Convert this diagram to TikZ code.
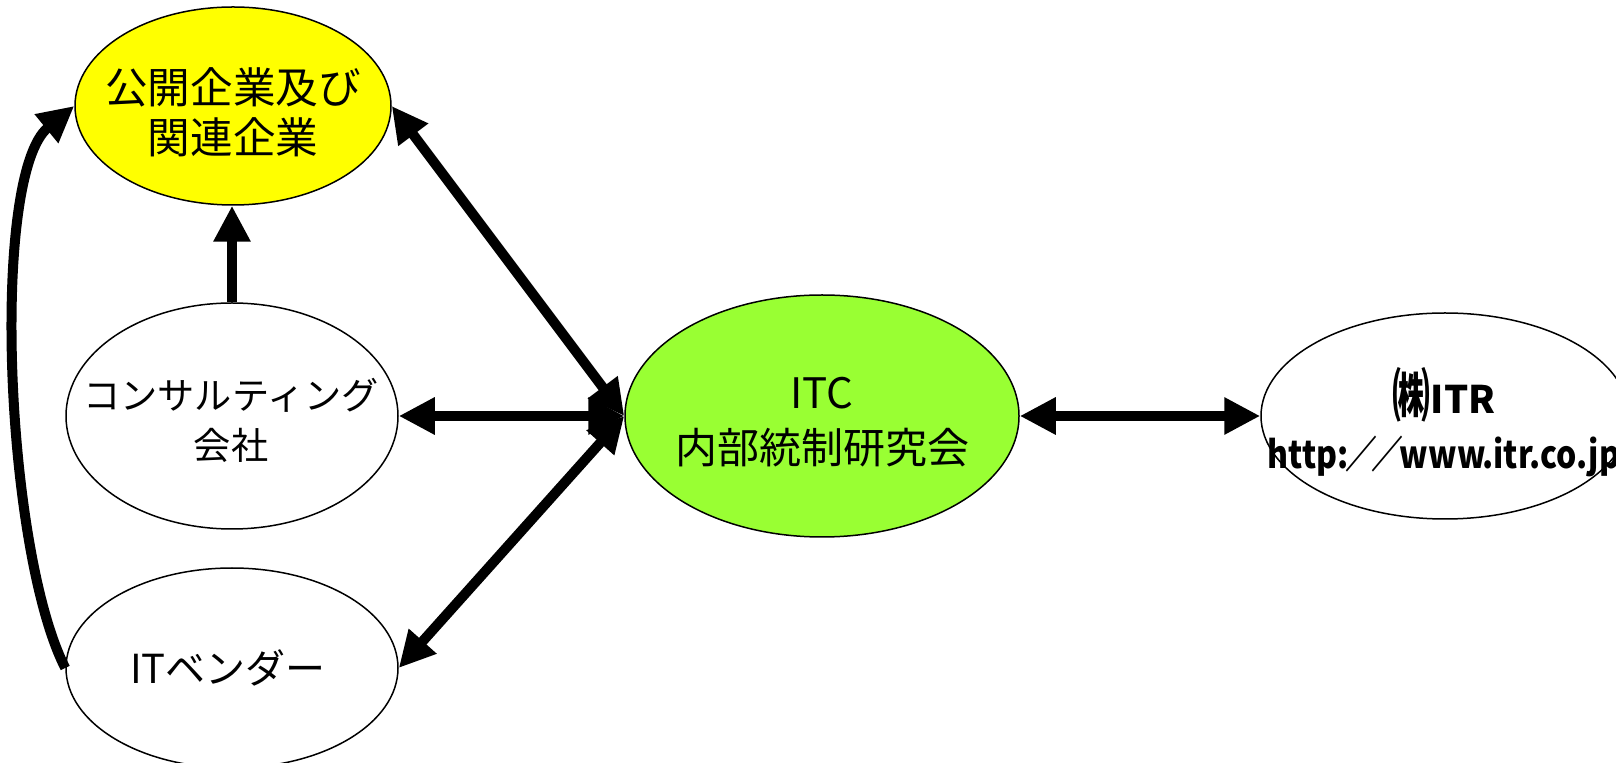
\documentclass[tikz,border=0pt]{standalone}
\usepackage{fontspec}
\setmainfont{Noto Sans CJK JP}
\usetikzlibrary{shapes.geometric,arrows.meta}
\definecolor{pubyellow}{RGB}{255,255,0}
\definecolor{itcgreen}{RGB}{153,255,51}
\newcommand{\narrowslash}{\makebox[0.8em][c]{／}}
\begin{document}
\begin{tikzpicture}[x=0.5pt,y=-0.5pt,
  oval/.style={ellipse,draw=black,line width=0.75pt,inner sep=0pt},
  conn/.style={line width=5pt,-{Triangle[length=18pt,width=17.5pt]}},
  both/.style={line width=5pt,{Triangle[length=18pt,width=17.5pt]}-{Triangle[length=18pt,width=17.5pt]}},
  txt/.style={align=center,inner sep=0pt}]
\useasboundingbox (0,0) rectangle (1616,763);
% ovals
\node[oval,fill=pubyellow,minimum width=158pt,minimum height=99pt] (pub) at (233,106) {};
\node[oval,fill=white,minimum width=166pt,minimum height=113pt] (con) at (232,416) {};
\node[oval,fill=white,minimum width=166pt,minimum height=100pt] (ven) at (232,668) {};
\node[oval,fill=itcgreen,minimum width=197pt,minimum height=121pt] (itc) at (822,416) {};
\node[oval,fill=white,minimum width=184pt,minimum height=103pt] (itr) at (1445,416) {};
% texts
\node[txt,font=\fontsize{21.3pt}{25pt}\selectfont] (pubt) at (233,112) {公開企業及び\\関連企業};
\node[txt,font=\fontsize{18.6pt}{25pt}\selectfont] (cont) at (231,420) {コンサルティング\\会社};
\node[txt,font=\fontsize{20pt}{25pt}\selectfont] (vent) at (228,668) {ITベンダー};
\node[txt,font=\fontsize{21pt}{27.5pt}\selectfont] (itct) at (822,422) {ITC\\内部統制研究会};
\node[txt,font=\fontsize{19pt}{27.5pt}\selectfont\bfseries] (itrt) at (1444,422) {\raisebox{-1.5pt}{\scalebox{1}[1.5]{㈱}}ITR\\\scalebox{0.84}[1]{http:\narrowslash\narrowslash www.itr.co.jp}};
% connectors
\draw[conn] (con.north) -- (con.north |- pub.south);
\draw[both] (pub.east) -- (itc.west);
\draw[both] (con.east) -- (itc.west);
\draw[both] (ven.east) -- (itc.west);
\draw[both] (itc.east) -- (itr.west);
\draw[conn] (ven.west) .. controls (5,550) and (-10,175) .. (pub.west);
\end{tikzpicture}
\end{document}
